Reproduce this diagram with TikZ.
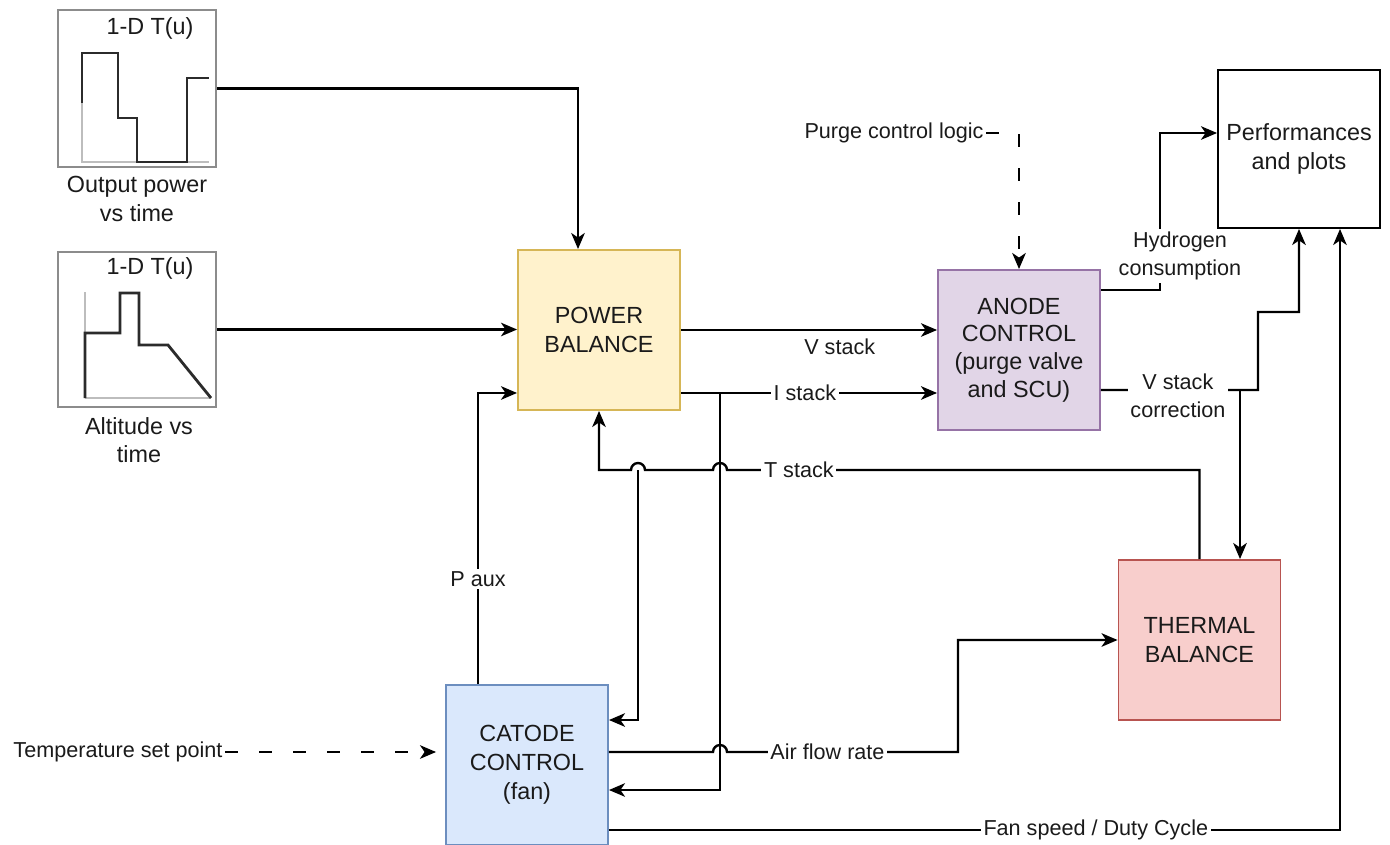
\documentclass[tikz,border=0pt]{standalone}
\usepackage{fontspec}
\setmainfont{Liberation Sans}
\usetikzlibrary{arrows.meta,positioning}
\definecolor{txt}{HTML}{1A1A1A}
\definecolor{pbfill}{HTML}{FFF2CC}
\definecolor{pbdraw}{HTML}{D6B656}
\definecolor{anfill}{HTML}{E1D5E7}
\definecolor{andraw}{HTML}{9673A6}
\definecolor{thfill}{HTML}{F8CECC}
\definecolor{thdraw}{HTML}{B85450}
\definecolor{cafill}{HTML}{DAE8FC}
\definecolor{cadraw}{HTML}{6C8EBF}
\definecolor{lutgray}{HTML}{8C8C8C}
\definecolor{axisgray}{HTML}{BDBDBD}
\definecolor{curvegray}{HTML}{2B2B2B}

\begin{document}
\begin{tikzpicture}[
    x=0.02cm, y=-0.02cm,
    box/.style={rectangle, draw, line width=1.1pt, align=center,
                minimum width=3.24cm, minimum height=3.2cm,
                font=\fontsize{13.3}{16.5}\selectfont, text=txt},
    lut/.style={rectangle, draw=lutgray, line width=1.3pt, minimum width=3.16cm},
    lutcap/.style={align=center, inner sep=0pt, font=\fontsize{13.3}{16}\selectfont, text=txt},
    lbl/.style={fill=white, inner sep=1.5pt, align=center,
                font=\fontsize{12.3}{16}\selectfont, text=txt},
    arrow/.style={-{Stealth[length=0.32cm, width=0.27cm, inset=0.09cm]}, line width=1.35pt},
    dasharrow/.style={arrow, dash pattern=on 0.26cm off 0.42cm},
    lutcurve/.style={line width=1.6pt, draw=curvegray},
    lutaxis/.style={line width=1.1pt, draw=axisgray}
  ]
    \useasboundingbox (0,0) rectangle (1390,845);

    \node[lut, minimum height=3.14cm] (lut1) at (137,88.5) {};
    \node[lutcap] (lut1t) at (150,28) {1-D T(u)};
    \draw[lutaxis] (82,103) -- (82,162) -- (209,162);
    \draw[lutcurve] (82,103) -- (82,53) -- (118,53) -- (118,118) -- (137,118)
      -- (137,162) -- (187,162) -- (187,78) -- (209,78);
    \node[lutcap] (lut1c) at (137,199) {Output power\\vs time};

    \node[lut, minimum height=3.1cm] (lut2) at (137,329.5) {};
    \node[lutcap] (lut2t) at (150,268) {1-D T(u)};
    \draw[lutaxis] (85,292) -- (85,333);
    \draw[lutaxis] (85,398) -- (211,398);
    \draw[lutcurve] (85,398) -- (85,333) -- (120,333) -- (120,293) -- (139,293)
      -- (139,345) -- (168,345) -- (211,398);
    \node[lutcap] (lut2c) at (139,440) {Altitude vs\\time};

    \node[box, fill=pbfill, draw=pbdraw] (pb) at (599,330) {POWER\\BALANCE};
    \node[box, fill=anfill, draw=andraw, font=\fontsize{13.3}{15.8}\selectfont]
      (anode) at (1019,350) {ANODE\\CONTROL\\(purge valve\\and SCU)};
    \node[box, draw=black, minimum height=3.16cm] (perf) at (1299,149) {Performances\\and plots};
    \node[box, fill=thfill, draw=thdraw] (thermal) at (1199.5,640) {THERMAL\\BALANCE};
    \node[box, fill=cafill, draw=cadraw] (catode) at (527,765) {CATODE\\CONTROL\\(fan)};

    \node[lbl] (purge) at (894,133) {Purge control logic};
    \node[lbl] (tsp) at (118,752) {Temperature set point};

    \coordinate (pbtop) at ([xshift=-0.42cm]pb.north);
    \coordinate (istk) at ([yshift=-1.26cm]pb.east);
    \coordinate (pbaux) at ([yshift=-1.26cm]pb.west);
    \coordinate (isplit) at (720,393);
    \coordinate (tsplit) at (638,470);
    \coordinate (h2) at (1160,133);
    \coordinate (vc) at (1258,312);
    \coordinate (vsplit) at (1240,390);
    \coordinate (perfin) at ([xshift=0.82cm]perf.south);
    \coordinate (afl) at ([yshift=0.26cm]catode.east);
    \coordinate (fan) at ([yshift=-1.3cm]catode.east);

    \draw[arrow] (lut1.east) -| (pbtop);
    \draw[arrow] (lut2.east) -- (lut2.east -| pb.west);
    \draw[arrow] (pb.east) -- node[lbl, fill=none, below=3pt, pos=0.62] {V stack} (pb.east -| anode.west);
    \draw[arrow] (istk) -- node[lbl, pos=0.484] {I stack} (istk -| anode.west);
    \draw[arrow] (isplit) |- ([yshift=-0.5cm]catode.east);
    \draw[arrow] (tsplit) |- ([yshift=0.9cm]catode.east);
    \draw[arrow] (thermal.north) |- node[lbl, pos=0.924] {T stack} (727,470)
      arc[start angle=0, end angle=180, radius=0.14cm] -- (645,470)
      arc[start angle=0, end angle=180, radius=0.14cm] -| (pb.south);
    \draw[arrow] ([xshift=-0.98cm]catode.north) |- node[lbl, pos=0.18] {P aux} (pbaux);
    \draw[arrow] (afl) -- (713,752) arc[start angle=180, end angle=0, radius=0.14cm]
      -- node[lbl, pos=0.435] {Air flow rate} (958,752) |- (thermal.west);
    \draw[arrow] (fan) -| node[lbl, pos=0.333] {Fan speed / Duty Cycle} (perfin);
    \draw[arrow] ([yshift=1.2cm]anode.east) -| node[lbl, pos=0.608, xshift=0.4cm] {Hydrogen\\consumption} (h2)
      -- (h2 -| perf.west);
    \draw[arrow] ([yshift=-0.8cm]anode.east) -- node[lbl, pos=0.49, yshift=-0.12cm] {V stack\\correction} (1258,390)
      -- (vc) -| (perf.south);
    \draw[arrow] (vsplit) -- (vsplit |- thermal.north);
    \draw[dasharrow] (purge.east) -| (anode.north);
    \draw[dasharrow, shorten >=0.18cm] (tsp.east) -- (tsp.east -| catode.west);
  \end{tikzpicture}
\end{document}
